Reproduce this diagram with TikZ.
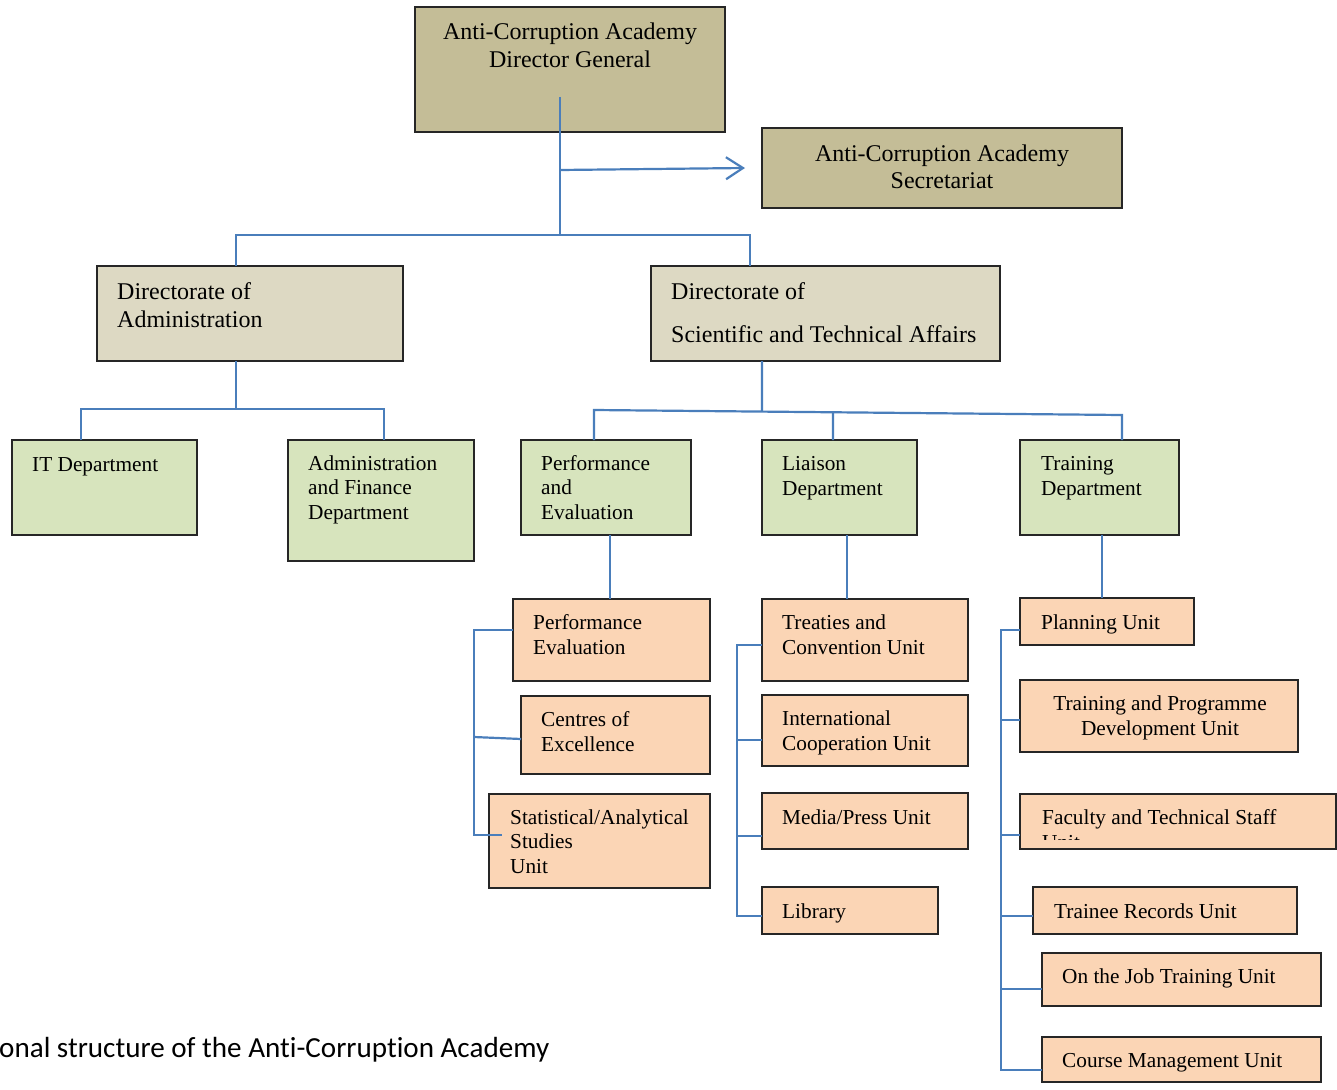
\documentclass[tikz,border=0pt]{standalone}
\usepackage{fontspec}
\setmainfont{Liberation Serif}
\newfontfamily\capfont[Ligatures=NoCommon]{Carlito}
\usetikzlibrary{arrows.meta,calc}
\definecolor{tanfill}{HTML}{C4BD97}
\definecolor{beigefill}{HTML}{DDD9C3}
\definecolor{greenfill}{HTML}{D7E4BD}
\definecolor{peachfill}{HTML}{FBD5B5}
\definecolor{connblue}{HTML}{4A7EBB}
\definecolor{edgecol}{HTML}{262626}
\tikzset{
  box/.style={draw=edgecol, line width=1.2pt, inner sep=0pt, outer sep=0pt, anchor=north west},
  bigtxt/.style={font=\fontsize{24}{28}\selectfont, inner sep=0pt, anchor=base west},
  bigctr/.style={font=\fontsize{24}{28}\selectfont, inner sep=0pt, anchor=base},
  smtxt/.style={font=\fontsize{21.3}{25}\selectfont, inner sep=0pt, anchor=base west},
  smctr/.style={font=\fontsize{21.3}{25}\selectfont, inner sep=0pt, anchor=base},
  cn/.style={draw=connblue, line width=2.2pt},
}
\newcommand\ubox[6]{\node[box,fill=#2,minimum width={(#5-#3)*1pt},minimum height={(#6-#4)*1pt}] (#1) at (#3,#4) {};}
\newcommand\tl[5]{\node[#2] (#1) at (#3,#4) {#5};}
\begin{document}
\begin{tikzpicture}[x=1pt,y=-1pt]
\useasboundingbox (0,0) rectangle (1337,1089);
% ---------- boxes ----------
\ubox{dg}{tanfill}{415}{7}{725}{132}
\ubox{sec}{tanfill}{762}{128}{1122}{208}
\ubox{dira}{beigefill}{97}{266}{403}{361}
\ubox{dirs}{beigefill}{651}{266}{1000}{361}
\ubox{it}{greenfill}{12}{440}{197}{535}
\ubox{af}{greenfill}{288}{440}{474}{561}
\ubox{pe}{greenfill}{521}{440}{691}{535}
\ubox{ld}{greenfill}{762}{440}{917}{535}
\ubox{td}{greenfill}{1020}{440}{1179}{535}
\ubox{pev}{peachfill}{513}{599}{710}{681}
\ubox{coe}{peachfill}{521}{696}{710}{774}
\ubox{sau}{peachfill}{489}{794}{710}{888}
\ubox{tcu}{peachfill}{762}{599}{968}{681}
\ubox{icu}{peachfill}{762}{695}{968}{766}
\ubox{mpu}{peachfill}{762}{793}{968}{849}
\ubox{lib}{peachfill}{762}{887}{938}{934}
\ubox{pu}{peachfill}{1020}{598}{1194}{645}
\ubox{tpd}{peachfill}{1020}{680}{1298}{752}
\ubox{fts}{peachfill}{1020}{794}{1336}{849}
\ubox{tru}{peachfill}{1033}{887}{1297}{934}
\ubox{ojt}{peachfill}{1042}{953}{1321}{1006}
\ubox{cmu}{peachfill}{1042}{1037}{1321}{1082}
% ---------- texts ----------
\tl{dg1}{bigctr}{570}{40}{Anti-Corruption Academy}
\tl{dg2}{bigctr}{570}{68}{Director General}
\tl{sec1}{bigctr}{942}{161}{Anti-Corruption Academy}
\tl{sec2}{bigctr}{942}{188}{Secretariat}
\tl{dira1}{bigtxt}{117}{299}{Directorate of}
\tl{dira2}{bigtxt}{117}{327}{Administration}
\tl{dirs1}{bigtxt}{671}{299}{Directorate of}
\tl{dirs2}{bigtxt}{671}{342}{Scientific and Technical Affairs}
\tl{it1}{smtxt}{32}{471}{IT Department}
\tl{af1}{smtxt}{308}{470}{Administration}
\tl{af2}{smtxt}{308}{494.7}{and Finance}
\tl{af3}{smtxt}{308}{519.4}{Department}
\tl{pe1}{smtxt}{541}{470}{Performance}
\tl{pe2}{smtxt}{541}{494.7}{and}
\tl{pe3}{smtxt}{541}{519.4}{Evaluation}
\tl{ld1}{smtxt}{782}{470}{Liaison}
\tl{ld2}{smtxt}{782}{495}{Department}
\tl{td1}{smtxt}{1041}{470}{Training}
\tl{td2}{smtxt}{1041}{495}{Department}
\tl{pev1}{smtxt}{533}{629}{Performance}
\tl{pev2}{smtxt}{533}{654}{Evaluation}
\tl{coe1}{smtxt}{541}{726}{Centres of}
\tl{coe2}{smtxt}{541}{751}{Excellence}
\tl{sau1}{smtxt}{510}{824}{Statistical/Analytical}
\tl{sau2}{smtxt}{510}{848.5}{Studies}
\tl{sau3}{smtxt}{510}{873}{Unit}
\tl{tcu1}{smtxt}{782}{629}{Treaties and}
\tl{tcu2}{smtxt}{782}{654}{Convention Unit}
\tl{icu1}{smtxt}{782}{725}{International}
\tl{icu2}{smtxt}{782}{750}{Cooperation Unit}
\tl{mpu1}{smtxt}{782}{824}{Media/Press Unit}
\tl{lib1}{smtxt}{782}{918}{Library}
\tl{pu1}{smtxt}{1041}{629}{Planning Unit}
\tl{tpd1}{smctr}{1160}{710}{Training and Programme}
\tl{tpd2}{smctr}{1160}{735}{Development Unit}
\begin{scope}
  \clip ($(fts.north west)+(1,1)$) rectangle ($(fts.north east)+(-1,45)$);
  \tl{fts1}{smtxt}{1042}{824}{Faculty and Technical Staff}
  \tl{fts2}{smtxt}{1042}{849}{Unit}
\end{scope}
\tl{tru1}{smtxt}{1054}{918}{Trainee Records Unit}
\tl{ojt1}{smtxt}{1062}{983}{On the Job Training Unit}
\tl{cmu1}{smtxt}{1062}{1067}{Course Management Unit}
\node[font=\capfont\fontsize{29.1}{32}\selectfont, inner sep=0pt, anchor=base west] (caption) at (-1,1057) {onal structure of the Anti-Corruption Academy};
% ---------- connectors ----------
\coordinate (dgs) at (560,97);
\coordinate (bus1) at (560,235);
\coordinate (arrs) at (560,170);
\draw[cn] (dgs) -- (bus1);
\draw[cn,-{Straight Barb[length=17pt,width=22pt]}] (arrs) -- ($(sec.west)+(-17,0)$);
\draw[cn] ($(dira.north west)+(139,0)$) |- (bus1) -| ($(dirs.north west)+(99,0)$);
% administration
\coordinate (bus2) at (236,409);
\draw[cn] ($(dira.south west)+(139,0)$) -- (bus2);
\draw[cn] ($(it.north west)+(69,0)$) |- (bus2) -| ($(af.north west)+(96,0)$);
% scientific
\coordinate (sbL) at (594,410);
\coordinate (sbR) at (1122,415);
\draw[cn] ($(dirs.south west)+(111,0)$) -- ($(sbL)!0.318!(sbR)$);
\draw[cn] ($(pe.north west)+(73,0)$) -- (sbL) -- (sbR) -- ($(td.north west)+(102,0)$);
\draw[cn] ($(ld.north west)+(71,0)$) -- ($(sbL)!0.4527!(sbR)$);
% stems to units
\draw[cn] ($(pe.south west)+(89,0)$) -- ($(pev.north west)+(97,0)$);
\draw[cn] ($(ld.south west)+(85,0)$) -- ($(tcu.north west)+(85,0)$);
\draw[cn] ($(td.south west)+(82,0)$) -- ($(pu.north west)+(82,0)$);
% performance bracket
\coordinate (b1t) at (474,630);
\coordinate (b1m) at (474,737);
\coordinate (b1b) at (474,835);
\draw[cn] ($(pev.north west)+(0,31)$) -- (b1t) -- (b1b) -- ($(sau.north west)+(13,41)$);
\draw[cn] (b1m) -- ($(coe.north west)+(0,43)$);
% liaison bracket
\coordinate (b2t) at (737,645);
\coordinate (b2b) at (737,916);
\draw[cn] ($(tcu.north west)+(0,46)$) -- (b2t) -- (b2b) -- ($(lib.north west)+(0,29)$);
\draw[cn] (737,740) -- ($(icu.north west)+(0,45)$);
\draw[cn] (737,836) -- ($(mpu.north west)+(0,43)$);
% training bracket
\coordinate (b3t) at (1001,630);
\coordinate (b3b) at (1001,1070);
\draw[cn] ($(pu.north west)+(0,32)$) -- (b3t) -- (b3b) -- ($(cmu.north west)+(0,33)$);
\draw[cn] (1001,720) -- ($(tpd.north west)+(0,40)$);
\draw[cn] (1001,835) -- ($(fts.north west)+(0,41)$);
\draw[cn] (1001,916) -- ($(tru.north west)+(0,29)$);
\draw[cn] (1001,989) -- ($(ojt.north west)+(0,36)$);
\end{tikzpicture}
\end{document}
